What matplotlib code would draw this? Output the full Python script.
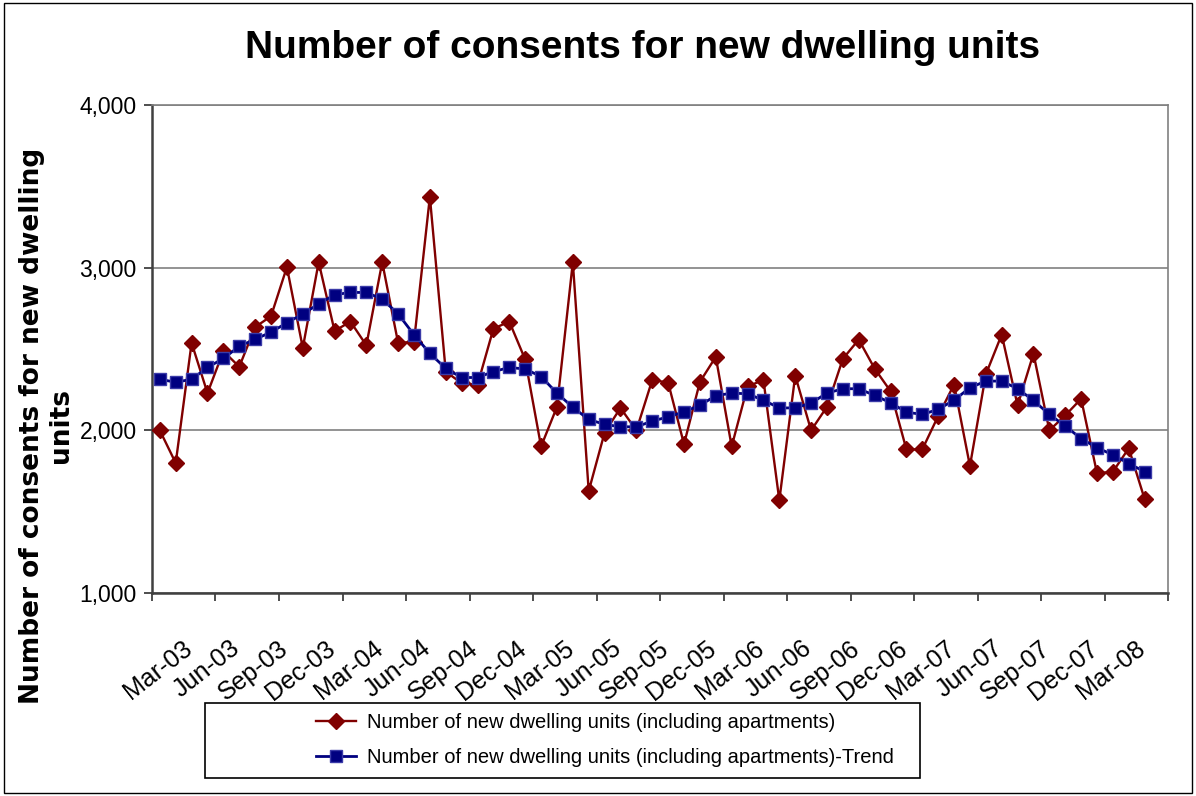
import numpy as np
import pandas as pd
import matplotlib
matplotlib.use("Agg")
import matplotlib.pyplot as plt
from matplotlib.patches import Rectangle

# monthly building consents, Jan 2003 - Mar 2008
months = pd.date_range("2003-01-01", periods=63, freq="MS").strftime("%b-%y").tolist()

consents = [2000, 1799, 2538, 2229, 2487, 2391, 2635, 2702, 3004, 2507, 3034, 2611,
            2669, 2523, 3034, 2538, 2544, 3436, 2361, 2290, 2280, 2625, 2669, 2436,
            1901, 2144, 3034, 1627, 1986, 2138, 2000, 2310, 2294, 1915, 2298, 2452,
            1901, 2270, 2310, 1570, 2337, 2000, 2145, 2440, 2558, 2380, 2241, 1883,
            1883, 2088, 2282, 1781, 2344, 2589, 2153, 2472, 2000, 2092, 2194, 1736,
            1746, 1890, 1577]

trend = [2314, 2296, 2314, 2387, 2442, 2517, 2560, 2604, 2661, 2716, 2777, 2834,
         2848, 2848, 2807, 2716, 2588, 2473, 2381, 2325, 2325, 2361, 2387, 2377,
         2331, 2229, 2142, 2067, 2037, 2022, 2022, 2057, 2083, 2114, 2154, 2213,
         2229, 2225, 2185, 2138, 2138, 2168, 2229, 2256, 2256, 2215, 2170, 2112,
         2098, 2129, 2186, 2262, 2303, 2303, 2256, 2184, 2098, 2027, 1949, 1894,
         1849, 1796, 1746]

tick_labels = ["Mar-03", "Jun-03", "Sep-03", "Dec-03", "Mar-04", "Jun-04", "Sep-04",
               "Dec-04", "Mar-05", "Jun-05", "Sep-05", "Dec-05", "Mar-06", "Jun-06",
               "Sep-06", "Dec-06", "Mar-07", "Jun-07", "Sep-07", "Dec-07", "Mar-08"]

series_names = ["Number of new dwelling units (including apartments)",
                "Number of new dwelling units (including apartments)-Trend"]

plt.rcParams["font.family"] = ["Liberation Sans", "DejaVu Sans"]

fig = plt.figure(figsize=(11.96, 7.96), dpi=100)
ax = fig.add_axes([0.127, 0.255, 0.850, 0.613])

x = np.arange(len(months))
l1, = ax.plot(x, consents, color="#800000", lw=1.7, marker="D", ms=8,
              mfc="#800000", mec="#800000", zorder=3)
l2, = ax.plot(x, trend, color="#000080", lw=2.0, marker="s", ms=8.5,
              mfc="#000080", mec="#3a3aa8", mew=1.0, zorder=4)

# one empty slot after the last month, as on the category axis
n_slots = len(months) + 1
ax.set_xlim(-0.5, n_slots - 0.5)
ax.set_ylim(1000, 4000)
ax.set_yticks([1000, 2000, 3000, 4000])
ax.set_yticklabels([f"{v:,}" for v in [1000, 2000, 3000, 4000]], fontsize=16.5)
ax.yaxis.grid(True, color="#808080", lw=1.2)
ax.set_axisbelow(True)

# tick marks every four months, labels every quarter (nudged so the text
# ends under its month)
ax.set_xticks(np.arange(-0.5, n_slots, 4))
ax.set_xticklabels([])
ax.set_xticks([months.index(t) - 0.6 for t in tick_labels], minor=True)
ax.set_xticklabels(tick_labels, minor=True, rotation=38, ha="right", va="top",
                   rotation_mode="anchor", fontsize=18)
ax.tick_params(axis="x", which="major", direction="out", length=6, width=1.2,
               color="#303030")
ax.tick_params(axis="x", which="minor", length=0, pad=31)
ax.tick_params(axis="y", direction="out", length=6, width=1.2, color="#303030", pad=5)

for side in ["left", "bottom"]:
    ax.spines[side].set_color("#404040")
    ax.spines[side].set_linewidth(1.8)
for side in ["top", "right"]:
    ax.spines[side].set_color("#808080")
    ax.spines[side].set_linewidth(1.2)

fig.text(0.537, 0.94, "Number of consents for new dwelling units", ha="center",
         va="center", fontsize=28, fontweight="bold")
fig.text(0.039, 0.465, "Number of consents for new dwelling\nunits", rotation=90,
         ha="center", va="center", multialignment="center", fontsize=19,
         fontweight="bold", family=["DejaVu Sans"], linespacing=1.12)

# legend box below the axis
fig.patches.append(Rectangle((205 / 1196, 1 - 778 / 796), 715 / 1196, 75 / 796,
                             transform=fig.transFigure, fill=False, ec="black", lw=1.2))
fig.legend([l1, l2], series_names, loc="upper left",
           bbox_to_anchor=(316 / 1196, 1 - 713 / 796), frameon=False,
           prop={"size": 14.5}, handlelength=2.0, handletextpad=0.55,
           labelspacing=0.8, borderaxespad=0, borderpad=0)

# outer chart border
fig.patches.append(Rectangle((0.003, 0.004), 0.994, 0.992, transform=fig.transFigure,
                             fill=False, ec="black", lw=1.0))

fig.savefig("out.png", dpi=100, facecolor="white")
